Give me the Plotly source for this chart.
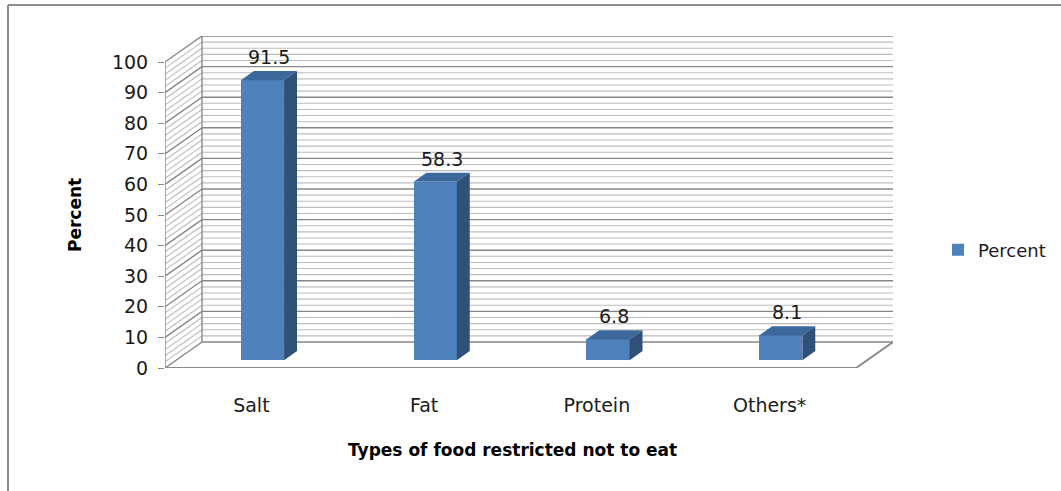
import plotly.graph_objects as go

# Data
categories = ["Salt", "Fat", "Protein", "Others*"]
percent = [91.5, 58.3, 6.8, 8.1]
y_ticks = list(range(0, 101, 10))
grid_values = list(range(0, 101, 2))

# Pseudo-3D geometry (x in category units, y in percent units)
DEPTH_X = 0.214        # full depth of the box along x
DEPTH_Y = 8.5          # full depth of the box along y
BAR_FRONT = 0.30       # bar front face position as a fraction of the depth
BAR_BACK = 0.65        # bar back face position as a fraction of the depth
BAR_W = 0.25
X0, X1 = -0.5, len(categories) - 0.5

FRONT = "#4F81BD"
TOP = "#3D689B"
SIDE = "#2F5177"
MINOR = "#bcbcbc"
MAJOR = "#868686"
FONT = "DejaVu Sans"

# plot area in pixels
PL, PR, PT, PB = 165, 893, 36, 368

fig = go.Figure()

shapes = []
# back wall and left wall gridlines
for v in grid_values:
    col = MAJOR if v % 10 == 0 else MINOR
    w = 1.4 if v % 10 == 0 else 1.1
    shapes.append(dict(type="line", xref="x", yref="y", layer="below",
                       x0=X0 + DEPTH_X, x1=X1 + DEPTH_X,
                       y0=v + DEPTH_Y, y1=v + DEPTH_Y,
                       line=dict(color=col, width=w)))
    shapes.append(dict(type="line", xref="x", yref="y", layer="below",
                       x0=X0, x1=X0 + DEPTH_X, y0=v, y1=v + DEPTH_Y,
                       line=dict(color=col, width=w)))
# wall edges, floor and front axis
edge = dict(color="#8a8a8a", width=1.4)
shapes += [
    dict(type="line", xref="x", yref="y", layer="below",
         x0=X0 + DEPTH_X, x1=X0 + DEPTH_X, y0=DEPTH_Y, y1=100 + DEPTH_Y, line=edge),
    dict(type="line", xref="x", yref="y", layer="below",
         x0=X0, x1=X0, y0=0, y1=100, line=edge),
    dict(type="line", xref="x", yref="y", layer="below",
         x0=X0, x1=X1, y0=0, y1=0, line=dict(color="#8a8a8a", width=2)),
    dict(type="line", xref="x", yref="y", layer="below",
         x0=X1, x1=X1 + DEPTH_X, y0=0, y1=DEPTH_Y, line=dict(color="#8a8a8a", width=2)),
]


def px_x(px):
    return (px - PL) / float(PR - PL)


def px_y(py):
    return (PB - py) / float(PB - PT)


# chart border (top and left)
border = dict(color="#8c8c8c", width=2)
shapes += [
    dict(type="line", xref="paper", yref="paper", x0=px_x(8), x1=px_x(1070),
         y0=px_y(5), y1=px_y(5), line=border),
    dict(type="line", xref="paper", yref="paper", x0=px_x(8), x1=px_x(8),
         y0=px_y(5), y1=px_y(500), line=border),
]

# front faces of the bars
fdx = BAR_FRONT * DEPTH_X
fdy = BAR_FRONT * DEPTH_Y
bdx = BAR_BACK * DEPTH_X
bdy = BAR_BACK * DEPTH_Y
xs = [i + fdx for i in range(len(categories))]
fig.add_trace(go.Bar(x=xs, y=percent, base=[fdy] * len(percent), width=BAR_W,
                     marker=dict(color=FRONT, line=dict(width=0)),
                     name="Percent", hoverinfo="skip"))

# top and side faces
for i, v in enumerate(percent):
    xl = i + fdx - BAR_W / 2
    xr = i + fdx + BAR_W / 2
    sh_x = bdx - fdx
    sh_y = bdy - fdy
    top_y = fdy + v
    fig.add_trace(go.Scatter(
        x=[xl, xr, xr + sh_x, xl + sh_x, xl],
        y=[top_y, top_y, top_y + sh_y, top_y + sh_y, top_y],
        fill="toself", fillcolor=TOP, mode="lines", line=dict(width=0, color=TOP),
        showlegend=False, hoverinfo="skip"))
    fig.add_trace(go.Scatter(
        x=[xr, xr + sh_x, xr + sh_x, xr, xr],
        y=[fdy, fdy + sh_y, top_y + sh_y, top_y, fdy],
        fill="toself", fillcolor=SIDE, mode="lines", line=dict(width=0, color=SIDE),
        showlegend=False, hoverinfo="skip"))

annotations = []
# value labels
for i, v in enumerate(percent):
    annotations.append(dict(x=i + (fdx + bdx) / 2, y=v + bdy, xref="x", yref="y",
                            text=f"{v}", showarrow=False, yanchor="bottom", yshift=1,
                            font=dict(family=FONT, size=19, color="#1a1a1a")))
# axis titles
annotations.append(dict(x=px_x(512), y=px_y(450), xref="paper", yref="paper",
                        xanchor="center", yanchor="middle",
                        text="<b>Types of food restricted not to eat</b>", showarrow=False,
                        font=dict(family=FONT, size=17, color="#000000")))
annotations.append(dict(x=px_x(75), y=px_y(215), xref="paper", yref="paper",
                        xanchor="center", yanchor="middle",
                        text="<b>Percent</b>", textangle=-90, showarrow=False,
                        font=dict(family=FONT, size=17, color="#000000")))

fig.update_layout(
    width=1061, height=491,
    margin=dict(l=PL, r=1061 - PR, t=PT, b=491 - PB, autoexpand=False),
    paper_bgcolor="white", plot_bgcolor="white",
    shapes=shapes, annotations=annotations,
    showlegend=True,
    legend=dict(x=px_x(938), y=px_y(250), xanchor="left", yanchor="middle",
                itemwidth=30,
                font=dict(family=FONT, size=18, color="#1a1a1a"),
                bgcolor="rgba(0,0,0,0)"),
    xaxis=dict(range=[X0, X1 + DEPTH_X], showgrid=False, zeroline=False, showline=False,
               tickvals=list(range(len(categories))), ticktext=categories, ticks="",
               ticklabelstandoff=24, automargin=False,
               tickfont=dict(family=FONT, size=19, color="#1a1a1a"), fixedrange=True),
    yaxis=dict(range=[0, 100 + DEPTH_Y], showgrid=False, zeroline=False, showline=False,
               tickvals=y_ticks, ticks="outside", ticklen=6, tickcolor="#8a8a8a",
               tickwidth=1.4, ticklabelstandoff=6, automargin=False,
               tickfont=dict(family=FONT, size=19, color="#1a1a1a"), fixedrange=True),
    bargap=0,
)

fig.write_html("out.html")
